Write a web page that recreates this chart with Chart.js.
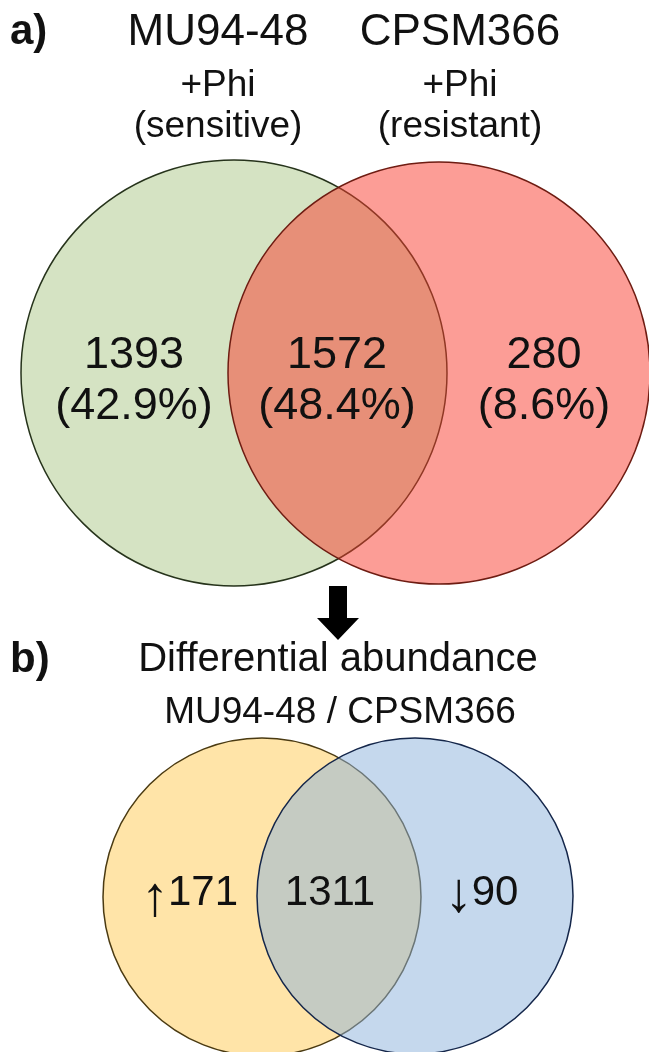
<!DOCTYPE html>
<html>
<head>
<meta charset="utf-8">
<title>Venn</title>
<script src="https://cdn.jsdelivr.net/npm/chart.js@4.4.0/dist/chart.umd.min.js"></script>
<style>
  html, body { margin: 0; padding: 0; background: #fff; }
  #venn { display: block; }
</style>
</head>
<body>
<canvas id="venn" width="649" height="1052"></canvas>
<script>
// panel a: proteins found after Phi treatment
const strainsA = ["MU94-48", "CPSM366"];
const treatmentA = ["+Phi", "+Phi"];
const phenotypeA = ["(sensitive)", "(resistant)"];
const countsA = [1393, 1572, 280]; // MU94-48 only, shared, CPSM366 only
const percentsA = [42.9, 48.4, 8.6];

// panel b: differential abundance of the shared set
const titleB = "Differential abundance";
const subtitleB = "MU94-48 / CPSM366";
const countsB = [171, 1311, 90]; // up, unchanged, down
const arrowsB = ["\u2191", "", "\u2193"];

// layout, in scale units (1 unit = 1 px)
const W = 649, H = 1052;
const circlesA = [{ x: 234, y: 373, r: 213 }, { x: 439, y: 373, r: 211 }];
const circlesB = [{ x: 262, y: 897, r: 159 }, { x: 415, y: 896, r: 158 }];
const regionXA = [134, 337, 544];
const regionXB = [190, 330, 482];
const BORDER = 1.5;

// bubble charts pad the chart area by the largest bubble, so shift the
// scale range by the same amount to keep 1 unit = 1 px
const PAD = Math.max(...circlesA.concat(circlesB).map((c) => c.r)) + BORDER;

const FONT = "'Liberation Sans', Arial, Helvetica, sans-serif";

const textPlugin = {
  id: "vennText",
  afterDatasetsDraw(chart) {
    const ctx = chart.ctx;
    const xs = chart.scales.x;
    const ys = chart.scales.y;
    const px = (v) => xs.getPixelForValue(v);
    const py = (v) => ys.getPixelForValue(v);
    const put = (txt, x, y, size, bold, align) => {
      ctx.font = (bold ? "bold " : "") + size + "px " + FONT;
      ctx.textAlign = align || "center";
      ctx.fillText(txt, px(x), py(y));
    };
    ctx.save();
    ctx.fillStyle = "#111";
    ctx.textBaseline = "middle";

    // panel a headings
    put("a)", 10, 32, 42, true, "left");
    strainsA.forEach((s, i) => {
      const cx = i === 0 ? 218 : 460;
      put(s, cx, 33, 44);
      put(treatmentA[i], cx, 86, 37);
      put(phenotypeA[i], cx, 127, 37);
    });
    // panel a region counts
    countsA.forEach((c, i) => {
      put(String(c), regionXA[i], 356, 45);
      put("(" + percentsA[i].toFixed(1) + "%)", regionXA[i], 407, 45);
    });

    // arrow between panels
    const ax = px(338);
    ctx.beginPath();
    ctx.moveTo(ax - 9, py(586));
    ctx.lineTo(ax + 9, py(586));
    ctx.lineTo(ax + 9, py(618));
    ctx.lineTo(ax + 21, py(618));
    ctx.lineTo(ax, py(640));
    ctx.lineTo(ax - 21, py(618));
    ctx.lineTo(ax - 9, py(618));
    ctx.closePath();
    ctx.fillStyle = "#000";
    ctx.fill();
    ctx.fillStyle = "#111";

    // panel b headings
    put("b)", 10, 660, 42, true, "left");
    put(titleB, 338, 660, 40);
    put(subtitleB, 340, 713, 37);

    // panel b counts, the up/down arrow glyph is taller than the digits
    countsB.forEach((c, i) => {
      const num = String(c);
      ctx.font = "42px " + FONT;
      const wn = ctx.measureText(num).width;
      let wa = 0;
      if (arrowsB[i]) {
        ctx.font = "56px " + FONT;
        wa = ctx.measureText(arrowsB[i]).width - 2;
      }
      const left = px(regionXB[i]) - (wa + wn) / 2;
      if (arrowsB[i]) {
        ctx.font = "56px " + FONT;
        ctx.textAlign = "left";
        ctx.fillText(arrowsB[i], left - 1, py(i === 0 ? 900 : 896));
      }
      ctx.font = "42px " + FONT;
      ctx.textAlign = "left";
      ctx.fillText(num, left + wa, py(893));
    });
    ctx.restore();
  }
};

new Chart(document.getElementById("venn"), {
  type: "bubble",
  data: {
    datasets: [
      { label: strainsA[0], data: [circlesA[0]], backgroundColor: "#d5e3c3", borderColor: "#26331b", borderWidth: BORDER, order: 4, clip: false },
      { label: strainsA[1], data: [circlesA[1]], backgroundColor: "rgba(250,60,45,0.5)", borderColor: "#6e1c12", borderWidth: BORDER, order: 3, clip: false },
      { label: "up", data: [circlesB[0]], backgroundColor: "#ffe4a8", borderColor: "#4a3a12", borderWidth: BORDER, order: 2, clip: false },
      { label: "down", data: [circlesB[1]], backgroundColor: "rgba(140,178,220,0.5)", borderColor: "#14264a", borderWidth: BORDER, order: 1, clip: false }
    ]
  },
  options: {
    responsive: false,
    animation: false,
    events: [],
    layout: { padding: 0 },
    scales: {
      x: { type: "linear", min: PAD, max: W - PAD, display: false },
      y: { type: "linear", min: PAD, max: H - PAD, reverse: true, display: false }
    },
    plugins: { legend: { display: false }, tooltip: { enabled: false } }
  },
  plugins: [textPlugin]
});
</script>
</body>
</html>
